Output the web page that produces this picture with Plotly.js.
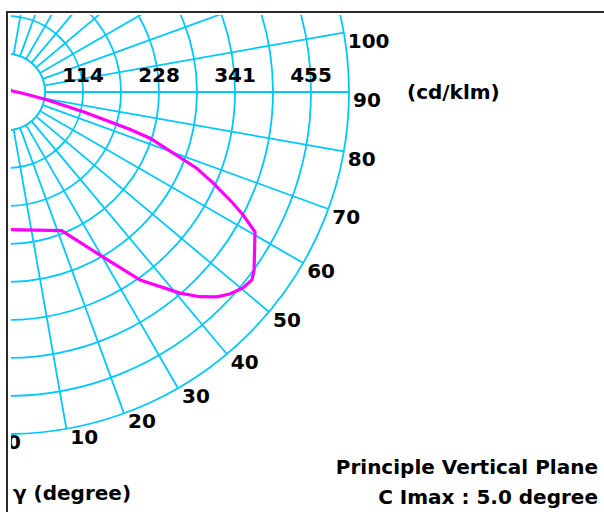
<!DOCTYPE html>
<html>
<head>
<meta charset="utf-8">
<script src="https://cdn.plot.ly/plotly-3.0.1.min.js"></script>
<style>
  html, body { margin: 0; padding: 0; background: #fff; width: 604px; height: 512px; overflow: hidden; }
  #frameTop  { position: absolute; left: 6px; top: 11px; width: 598px; height: 2px; background: #2a2a2a; }
  #frameLeft { position: absolute; left: 6px; top: 11px; width: 2px; height: 501px; background: #2a2a2a; }
  #clip  { position: absolute; left: 11px; top: 15px; width: 593px; height: 497px; overflow: hidden; }
  #chart { position: absolute; left: -404px; top: -323px; width: 800px; height: 800px; }
  .lbl { position: absolute; font-family: "DejaVu Sans", sans-serif; font-weight: bold; font-size: 20px;
         line-height: 24px; color: #000; white-space: nowrap; }
</style>
</head>
<body>
<div id="frameTop"></div>
<div id="frameLeft"></div>
<div id="clip"><div id="chart"></div></div>
<div class="lbl" id="unit" style="left:407px; top:80px;">(cd/klm)</div>
<div class="lbl" id="plane" style="right:6px; top:455px;">Principle Vertical Plane</div>
<div class="lbl" id="cmax" style="right:6px; top:485px;">C Imax : 5.0 degree</div>
<div class="lbl" id="gam" style="left:13px; top:481px;">γ (degree)</div>
<script>
// Luminous intensity curve, principal vertical plane (gamma in degrees, cd/klm)
const gammaDeg  = [-5, 0, 21.5, 29.7, 35.3, 40.7, 43.3, 45.7, 47.8, 50.3, 52.5, 54.2,
                   60.6, 62.5, 63.8, 66.2, 68.1, 72.1, 73.1, 75.5, 79.1, 85, 100, 140];
const intensity = [206, 206, 223, 281, 345, 397, 421, 439, 450, 459, 462, 456,
                   426, 398, 377, 337, 306, 225, 192, 118, 58, 25, 8, 5];

// Radial rings and their labels (every other ring is labelled)
const ringValues = [56.875, 113.75, 170.625, 227.5, 284.375, 341.25, 398.125, 455];
const ringLabels = ['', '114', '', '228', '', '341', '', '455'];
const rMax = 511.875;

// Angle labels drawn along the outer ring
const angleTicks  = [0, 10, 20, 30, 40, 50, 60, 70, 80, 90, 100];
const angleLabels = ['0', '10', '20', '30', '40', '50', '60', '70', '80', '90', '100'];

const CYAN = '#00c8ff';
const MAGENTA = '#ff00ff';

// spoke positions every 10 degrees round the full circle
const spokes = [];
for (let a = 0; a < 360; a += 10) spokes.push(a);

// blank centre disc: spokes start at the first ring
const discTheta = [], discR = [];
for (let a = 0; a <= 360; a += 3) { discTheta.push(a); discR.push(ringValues[0]); }

// small gap between the outer ring and each angle label
const angleText = angleLabels.map((t, i) => (angleTicks[i] === 0 ? t : '\u2009' + t));

const traces = [
  {
    type: 'scatterpolar', mode: 'lines',
    theta: discTheta, r: discR,
    fill: 'toself', fillcolor: '#ffffff',
    line: { color: CYAN, width: 1.8 },
    hoverinfo: 'skip'
  },
  {
    type: 'scatterpolar', mode: 'lines',
    theta: gammaDeg, r: intensity,
    line: { color: MAGENTA, width: 3.2 },
    cliponaxis: true
  },
  {
    type: 'scatterpolar', mode: 'text',
    theta: angleTicks, r: angleTicks.map(() => rMax),
    text: angleText, textposition: 'bottom right',
    textfont: { family: 'DejaVu Sans', size: 20, color: '#000', weight: 'bold' },
    cliponaxis: false
  }
];

const layout = {
  width: 800, height: 800,
  margin: { l: 58, r: 58, t: 58, b: 58, pad: 0 },
  paper_bgcolor: 'rgba(0,0,0,0)',
  showlegend: false,
  polar: {
    bgcolor: 'rgba(0,0,0,0)',
    domain: { x: [0, 1], y: [0, 1] },
    radialaxis: {
      range: [0, rMax],
      tickmode: 'array', tickvals: ringValues, ticktext: ringLabels,
      angle: 0, side: 'counterclockwise', tickangle: 0,
      showline: false,
      gridcolor: CYAN, gridwidth: 1.8,
      ticks: 'outside', ticklen: 2, tickcolor: 'rgba(0,0,0,0)',
      tickfont: { family: 'DejaVu Sans', size: 20, color: '#000', weight: 'bold' }
    },
    angularaxis: {
      rotation: -90, direction: 'counterclockwise',
      tickmode: 'array', tickvals: spokes,
      showticklabels: false, ticks: '',
      gridcolor: CYAN, gridwidth: 1.8,
      showline: true, linecolor: CYAN, linewidth: 1.8
    }
  }
};

Plotly.newPlot('chart', traces, layout, { staticPlot: true, displayModeBar: false });
</script>
</body>
</html>
